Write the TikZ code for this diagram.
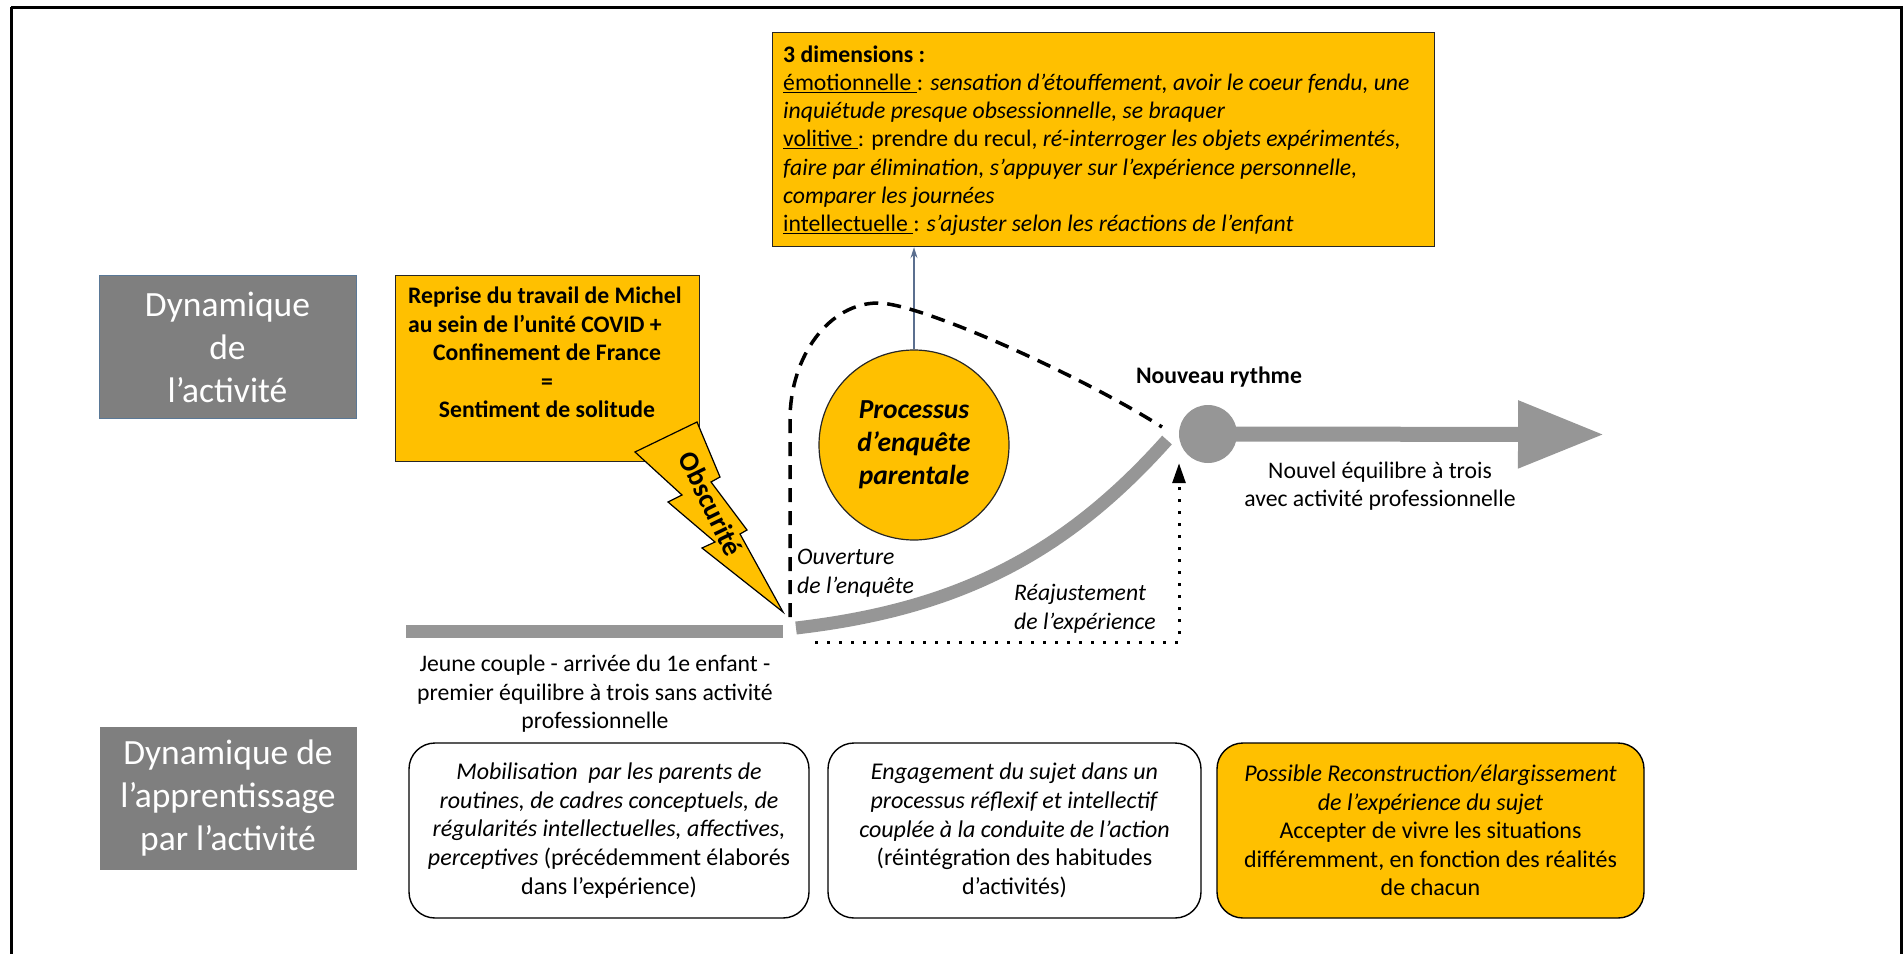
\documentclass[tikz,border=0pt]{standalone}
\usepackage{fontspec}
\setmainfont{Carlito}
\usetikzlibrary{arrows.meta,calc}
\definecolor{gold}{HTML}{FFC000}
\definecolor{boxgray}{HTML}{7F7F7F}
\definecolor{linegray}{HTML}{969696}
\definecolor{steel}{HTML}{5A7896}
\definecolor{arrowblue}{HTML}{5B6F8F}
\newcommand{\fsn}{\fontsize{23.7}{28.6}\selectfont}
\begin{document}
\begin{tikzpicture}[x=1pt,y=-1pt,
  txt/.style={font=\fsn, inner sep=0pt, align=center},
  itxt/.style={font=\fsn\itshape, inner sep=0pt},
  btxt/.style={font=\fsn\bfseries, inner sep=0pt},
  graybox/.style={fill=boxgray, text=white, font=\fontsize{35.5}{43}\selectfont, align=center, minimum width=257pt, minimum height=143pt, inner sep=0pt},
  goldbox/.style={fill=gold, draw=black!85, line width=1.2pt, inner sep=0pt},
  roundbox/.style={draw=black, line width=1.4pt, rounded corners=26pt, align=center, inner sep=0pt, font=\fontsize{24}{28.6}\selectfont},
  grayline/.style={draw=linegray, line width=13pt},
]
\useasboundingbox (0,0) rectangle (1903,953);
% frame
\draw[line width=3pt] (11,7) -- (11,960) (11,7) -- (1901,7) -- (1901,960);

% left labels
\node[graybox, draw=steel, line width=1pt] (dynact) at (227.5,347) {Dynamique\\de\\l’activité};
\node[graybox] (dynapp) at (228,798) {Dynamique de\\l’apprentissage\\par l’activité};

% reprise box
\node[goldbox, minimum width=304pt, minimum height=186pt, anchor=north west] (reprise) at (395,275) {};
\node[btxt, anchor=base west] (r1) at (408,303.7) {Reprise du travail de Michel};
\node[btxt, anchor=base west] (r2) at (408,332) {au sein de l’unité COVID +};
\node[btxt, anchor=base] (r3) at (547,360.5) {Confinement de France};
\node[btxt, anchor=base] (r4) at (547,389) {=};
\node[btxt, anchor=base] (r5) at (547,417.5) {Sentiment de solitude};

% lightning bolt
\draw[fill=gold, draw=black, line width=1.2pt] (697,422) -- (720,477) -- (711,482) -- (747,530) -- (740,534) -- (783,612) -- (702,548) -- (715,542) -- (668,502) -- (682,495) -- (635,452) -- cycle;
\node[rotate=-64, font=\fontsize{28}{32}\selectfont\bfseries, inner sep=0pt] (obsc) at (711,504) {Obscurité};

% top box
\node[goldbox, minimum width=662pt, minimum height=214pt, anchor=north west] (dims) at (772,32) {};
\node[anchor=north west, align=left, inner sep=0pt, font=\fontsize{23.7}{28.2}\selectfont] (dimstext) at (783,45.5) {\textbf{3 dimensions :}\\
\underline{émotionnelle\ }: \textit{sensation d’étouffement, avoir le coeur fendu, une}\\
\textit{inquiétude presque obsessionnelle, se braquer}\\
\underline{volitive\ }: prendre du recul, \textit{ré-interroger les objets expérimentés,}\\
\textit{faire par élimination, s’appuyer sur l’expérience personnelle,}\\
\textit{comparer les journées}\\
\underline{intellectuelle\ }: \textit{s’ajuster selon les réactions de l’enfant}};

% process circle
\node[circle, fill=gold, draw=black!85, line width=1.2pt, minimum size=190pt, inner sep=0pt, align=center, font=\fontsize{27.5}{33}\selectfont\bfseries\itshape] (proc) at (914,445) {Processus\\d’enquête\\parentale};
\draw[arrowblue, line width=1.4pt, -{Stealth[length=11pt,width=7pt]}] (proc.north) -- (proc.north |- dims.south);

% nouveau rythme
\node[circle, fill=linegray, minimum size=58pt, inner sep=0pt] (rythme) at (1208,434) {};
\node[btxt] (rythmelbl) at (1219,377) {Nouveau rythme};
\coordinate (tip) at (1604,434.5);
\draw[linegray, line width=15pt, -{Triangle[length=86pt,width=64pt]}] (rythme.center) -- (tip);
\node[txt] (nouvel) at (1380,486) {Nouvel équilibre à trois\\avec activité professionnelle};

% gray line and curve
\coordinate (l0) at (406,631);
\coordinate (l1) at (783,631);
\coordinate (c0) at (796,628);
\coordinate (cend) at (1167,440);
\draw[grayline] (l0) -- (l1);
\draw[grayline] (c0) .. controls (950,610) and (1060,560) .. (cend);

% dashed loop
\coordinate (open) at (790,617);
\coordinate (dend) at (1162,427);
\draw[line width=3.5pt, dash pattern=on 14pt off 9pt] (open) -- (790,420) .. controls (790,355) and (830,303) .. (878,303) .. controls (920,303) and (1080,375) .. (dend);

% dotted arrow
\coordinate (dstart) at (815,642);
\draw[line width=3pt, dash pattern=on 3pt off 9pt, -{Triangle[length=20pt,width=13pt]}] (dstart) -| ([xshift=-29pt]rythme.south);

% labels along curve
\node[itxt, anchor=west, align=left] (ouv) at (797,573) {Ouverture\\de l’enquête};
\node[itxt, anchor=west, align=left] (reaj) at (1014,609) {Réajustement\\de l’expérience};
\node[txt] (jeune) at (595,694) {Jeune couple - arrivée du 1e enfant -\\premier équilibre à trois sans activité\\professionnelle};

% bottom boxes
\node[roundbox, minimum width=400pt, minimum height=175pt] (b1) at (609,830.5) {\textit{Mobilisation\ \ par les parents de}\\\textit{routines, de cadres conceptuels, de}\\\textit{régularités intellectuelles, affectives,}\\\textit{perceptives} (précédemment élaborés\\dans l’expérience)};
\node[roundbox, minimum width=373pt, minimum height=175pt] (b2) at (1014.5,830.5) {\textit{Engagement du sujet dans un}\\\textit{processus réflexif et intellectif}\\\textit{couplée à la conduite de l’action}\\(réintégration des habitudes\\d’activités)};
\node[roundbox, fill=gold, minimum width=427pt, minimum height=175pt] (b3) at (1430.5,830.5) {\textit{Possible Reconstruction/élargissement}\\\textit{de l’expérience du sujet}\\Accepter de vivre les situations\\différemment, en fonction des réalités\\de chacun};
\end{tikzpicture}
\end{document}
